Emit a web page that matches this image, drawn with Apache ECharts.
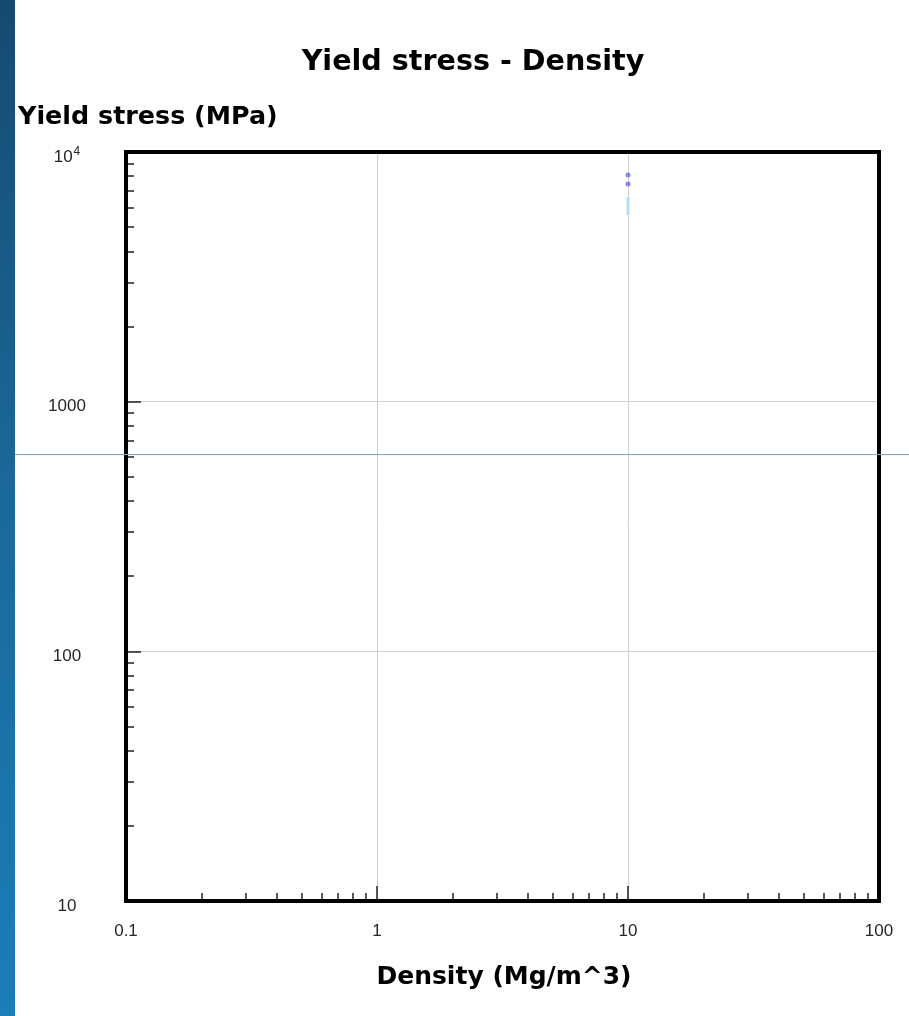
<!DOCTYPE html>
<html>
<head>
<meta charset="utf-8">
<title>Yield stress - Density</title>
<script src="https://cdn.jsdelivr.net/npm/echarts@6/dist/echarts.min.js"></script>
<style>
  html, body { margin: 0; padding: 0; background: #ffffff; }
  #chart { width: 909px; height: 1016px; }
</style>
</head>
<body>
<div id="chart"></div>
<script>
// Axis ranges (log10 scales)
const densityRange = [0.1, 100];
const stressRange = [10, 10000];

// Decade tick values and their labels
const densityTicks = [0.1, 1, 10, 100];
const densityTickLabels = ['0.1', '1', '10', '100'];
const stressTicks = [10, 100, 1000, 10000];
const stressTickLabels = ['10', '100', '1000', '{n|10}{s|4}'];

// Minor ticks: 2..9 within every decade
const densityMinorTicks = [0.2, 0.3, 0.4, 0.5, 0.6, 0.7, 0.8, 0.9,
  2, 3, 4, 5, 6, 7, 8, 9, 20, 30, 40, 50, 60, 70, 80, 90];
const stressMinorTicks = [20, 30, 40, 50, 60, 70, 80, 90,
  200, 300, 400, 500, 600, 700, 800, 900,
  2000, 3000, 4000, 5000, 6000, 7000, 8000, 9000];

// Small material marks near density 10
const pointDensity = [10, 10];
const pointStress = [8090, 7440];
const bandDensity = [10, 10];
const bandStress = [6600, 5590];

const labelFont = '"Liberation Sans", Arial, sans-serif';
const headFont = '"DejaVu Sans", sans-serif';

const chart = echarts.init(document.getElementById('chart'), null, { renderer: 'canvas' });

function labelFor(values, labels) {
  return function (v) {
    for (let i = 0; i < values.length; i++) {
      if (Math.abs(Math.log10(v) - Math.log10(values[i])) < 1e-6) return labels[i];
    }
    return '';
  };
}

const baseAxis = {
  type: 'log',
  logBase: 10
};

chart.setOption({
  animation: false,
  backgroundColor: '#ffffff',
  title: [
    {
      text: 'Yield stress - Density',
      left: 468, top: 43, textAlign: 'center',
      textStyle: { fontFamily: headFont, fontWeight: 'bold', fontSize: 28.6, color: '#000' }
    },
    {
      text: 'Yield stress (MPa)',
      left: 13, top: 100,
      textStyle: { fontFamily: headFont, fontWeight: 'bold', fontSize: 25.4, color: '#000' }
    },
    {
      text: 'Density (Mg/m^3)',
      left: 499, top: 960, textAlign: 'center',
      textStyle: { fontFamily: headFont, fontWeight: 'bold', fontSize: 25, color: '#000' }
    }
  ],
  grid: {
    left: 126, top: 152, right: 30, bottom: 115,
    show: true, borderColor: '#000', borderWidth: 4, backgroundColor: 'transparent', z: 5
  },
  xAxis: [
    Object.assign({}, baseAxis, {
      min: densityRange[0], max: densityRange[1],
      axisLine: { show: false },
      axisTick: { show: true, inside: true, length: 15, lineStyle: { color: '#222', width: 1.5 } },
      splitLine: { show: true, lineStyle: { color: '#cfcfcf', width: 1 } },
      minorTick: { show: false },
      axisLabel: {
        margin: 22, fontFamily: labelFont, fontSize: 17, color: '#262626',
        formatter: labelFor(densityTicks, densityTickLabels)
      }
    }),
    Object.assign({}, baseAxis, {
      min: densityRange[0], max: densityRange[1], position: 'bottom',
      axisLine: { show: false },
      axisTick: { show: true, inside: true, length: 8, customValues: densityMinorTicks,
        lineStyle: { color: '#222', width: 1.5 } },
      axisLabel: { show: false },
      splitLine: { show: false }
    })
  ],
  yAxis: [
    Object.assign({}, baseAxis, {
      min: stressRange[0], max: stressRange[1],
      axisLine: { show: false },
      axisTick: { show: true, inside: true, length: 15, lineStyle: { color: '#222', width: 1.5 } },
      splitLine: { show: true, lineStyle: { color: '#cfcfcf', width: 1 } },
      axisLabel: {
        margin: 59, align: 'center', fontFamily: labelFont, fontSize: 17, color: '#262626',
        padding: [10, 0, 0, 0],
        formatter: labelFor(stressTicks, stressTickLabels),
        rich: {
          n: { fontFamily: labelFont, fontSize: 17, color: '#262626' },
          s: { fontFamily: labelFont, fontSize: 12, color: '#262626', padding: [0, 0, 10, 1] }
        }
      }
    }),
    Object.assign({}, baseAxis, {
      min: stressRange[0], max: stressRange[1], position: 'left',
      axisLine: { show: false },
      axisTick: { show: true, inside: true, length: 8, customValues: stressMinorTicks,
        lineStyle: { color: '#222', width: 1.5 } },
      axisLabel: { show: false },
      splitLine: { show: false }
    })
  ],
  series: [
    {
      name: 'band',
      type: 'line',
      xAxisIndex: 0, yAxisIndex: 0,
      data: bandDensity.map((d, i) => [d, bandStress[i]]),
      showSymbol: false,
      lineStyle: { color: '#b6dbf3', width: 3 },
      z: 3
    },
    {
      name: 'points',
      type: 'scatter',
      xAxisIndex: 0, yAxisIndex: 0,
      data: pointDensity.map((d, i) => [d, pointStress[i]]),
      symbolSize: 5,
      itemStyle: { color: '#7373f0', opacity: 0.85 },
      z: 3
    }
  ],
  graphic: [
    {
      type: 'rect',
      shape: { x: 0, y: 0, width: 15, height: 1016 },
      style: {
        fill: new echarts.graphic.LinearGradient(0, 0, 0, 1, [
          { offset: 0, color: '#164a70' },
          { offset: 0.45, color: '#1a6797' },
          { offset: 1, color: '#1c7dba' }
        ])
      },
      z: 10
    },
    {
      type: 'line',
      shape: { x1: 15, y1: 454.5, x2: 909, y2: 454.5 },
      style: { stroke: '#78acd0', lineWidth: 1 },
      z: 10
    }
  ]
});
</script>
</body>
</html>
